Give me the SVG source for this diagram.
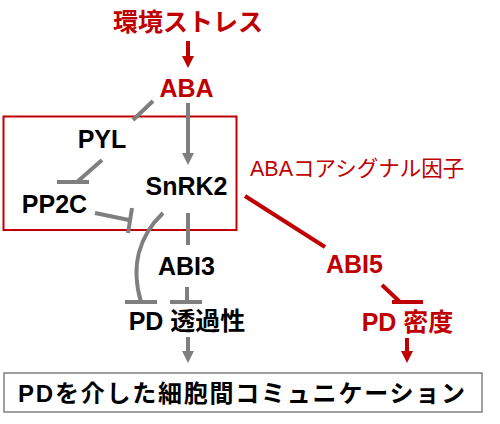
<svg xmlns="http://www.w3.org/2000/svg" width="500" height="424" viewBox="0 0 500 424">
  <style>
    .t { font-family: "Liberation Sans", "Noto Sans CJK JP", sans-serif; font-weight: bold; font-size: 25px; fill: #000; text-anchor: middle; }
    .red { fill: #c00000; }
    .g { stroke: #7f7f7f; stroke-width: 4; fill: none; }
    .r { stroke: #c00000; stroke-width: 4; fill: none; }
    .gr { marker-end: url(#ag); }
    .rr { marker-end: url(#ar); }
  </style>
  <defs>
    <marker id="ag" markerUnits="userSpaceOnUse" markerWidth="12" markerHeight="12" refX="4" refY="6" orient="auto">
      <path d="M0,0 L12,6 L0,12 z" fill="#7f7f7f"/>
    </marker>
    <marker id="ar" markerUnits="userSpaceOnUse" markerWidth="12" markerHeight="12" refX="4" refY="6" orient="auto">
      <path d="M0,0 L12,6 L0,12 z" fill="#c00000"/>
    </marker>
  </defs>
  <rect width="500" height="424" fill="#fff"/>

  <g id="core-box">
    <rect x="3.5" y="116.5" width="233" height="113.5" fill="none" stroke="#c00000" stroke-width="2"/>
    <text x="250" y="176" style="font-family: 'Liberation Sans', 'Noto Sans CJK JP', sans-serif; font-size: 21.5px; fill: #c00000;">ABAコアシグナル因子</text>
  </g>

  <g id="connectors">
    <line class="r rr" x1="188" y1="41" x2="188" y2="60"/>
    <line class="g" x1="153" y1="101" x2="133" y2="120"/>
    <line class="g gr" x1="188" y1="103" x2="188" y2="157"/>
    <line class="g" x1="102" y1="160" x2="77" y2="182"/>
    <line class="g" x1="57" y1="182" x2="89" y2="182"/>
    <line class="g" x1="95" y1="213" x2="129" y2="220"/>
    <line class="g" x1="132" y1="208" x2="128" y2="233"/>
    <path class="g" d="M163,213 C140,235 130,265 141,302"/>
    <line class="g" x1="125" y1="302" x2="157" y2="302"/>
    <line class="g" x1="188" y1="213" x2="188" y2="245"/>
    <line class="g" x1="187" y1="287" x2="187" y2="302"/>
    <line class="g" x1="170" y1="302" x2="202" y2="302"/>
    <line class="g gr" x1="188" y1="337" x2="188" y2="355"/>
    <line class="r" x1="245" y1="196" x2="325" y2="247"/>
    <line class="r" x1="382" y1="285" x2="400" y2="302"/>
    <line class="r" x1="392" y1="302" x2="423" y2="302"/>
    <line class="r rr" x1="407" y1="338" x2="407" y2="355"/>
  </g>

  <g id="stress"><text class="t red" x="188" y="31">環境ストレス</text></g>
  <g id="aba"><text class="t red" x="186.5" y="97">ABA</text></g>
  <g id="pyl"><text class="t" x="102" y="148">PYL</text></g>
  <g id="pp2c"><text class="t" x="54.5" y="213">PP2C</text></g>
  <g id="snrk2"><text class="t" x="186.5" y="195">SnRK2</text></g>
  <g id="abi3"><text class="t" x="186.5" y="275">ABI3</text></g>
  <g id="pd-perm"><text class="t" x="187" y="330">PD 透過性</text></g>
  <g id="abi5"><text class="t red" x="354.5" y="273">ABI5</text></g>
  <g id="pd-density"><text class="t red" x="407.5" y="331">PD 密度</text></g>
  <g id="communication">
    <rect x="4" y="373" width="478" height="39" fill="#fff" stroke="#808080" stroke-width="1.5"/>
    <text class="t" x="18" y="402" style="text-anchor: start; font-size: 24px;" textLength="447" lengthAdjust="spacing">PDを介した細胞間コミュニケーション</text>
  </g>
</svg>
